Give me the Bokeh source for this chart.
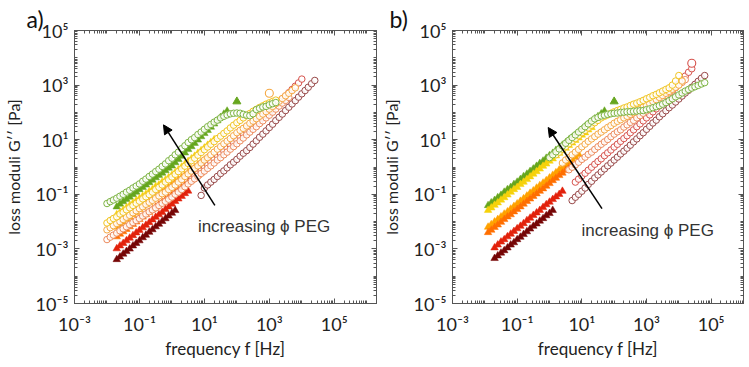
from bokeh.plotting import figure
from bokeh.layouts import row
from bokeh.models import LogAxis, FixedTicker, CustomJSTickFormatter, Arrow, NormalHead
from bokeh.core.properties import value
from bokeh.embed import file_html
from bokeh.resources import INLINE

# ---------------- data ----------------
# measurement frequencies [Hz] (10 points per decade, 0.01 Hz ... 63 kHz)
F = [0.01, 0.0126, 0.0158, 0.02, 0.0251, 0.0316, 0.0398, 0.0501, 0.0631, 0.0794,
     0.1, 0.126, 0.158, 0.2, 0.251, 0.316, 0.398, 0.501, 0.631, 0.794,
     1, 1.26, 1.58, 2, 2.51, 3.16, 3.98, 5.01, 6.31, 7.94,
     10, 12.6, 15.8, 20, 25.1, 31.6, 39.8, 50.1, 63.1, 79.4,
     100, 126, 158, 200, 251, 316, 398, 501, 631, 794,
     1000, 1260, 1580, 2000, 2510, 3160, 3980, 5010, 6310, 7940,
     10000, 12600, 15800, 20000, 25100, 31600, 39800, 50100, 63100]

# ---- panel a) : filled triangles, G'' [Pa]  (first point at F[3] = 0.02 Hz)
TA_green = [0.035, 0.044, 0.054, 0.065, 0.079, 0.098, 0.12, 0.15, 0.18, 0.22,
            0.27, 0.33, 0.41, 0.50, 0.60, 0.74, 0.91, 1.1, 1.45, 1.9,
            2.5, 3.3, 4.4, 5.6, 7.4, 9.8, 13, 17, 22, 29,
            38, 50, 66, 87, 112]
TA_yellow = [0.018, 0.021, 0.026, 0.032, 0.039, 0.047, 0.058, 0.069, 0.085, 0.10,
             0.126, 0.15, 0.19, 0.22, 0.28, 0.33, 0.41, 0.50, 0.63, 0.79,
             1.0, 1.26, 1.6, 2.0, 2.5, 3.2, 4.0, 5.0, 6.3, 7.9, 10]
TA_orange = [0.0063, 0.0078, 0.0096, 0.012, 0.0145, 0.018, 0.022, 0.028, 0.034, 0.042,
             0.051, 0.063, 0.078, 0.096, 0.117, 0.148, 0.18, 0.22, 0.28, 0.34,
             0.42, 0.51, 0.63, 0.78, 0.95, 1.2, 1.5, 1.8, 2.2]
TA_dorange = [0.0028, 0.0035, 0.0043, 0.0052, 0.0065, 0.0079, 0.0098, 0.012, 0.0148, 0.018,
              0.022, 0.0275, 0.034, 0.042, 0.051, 0.063, 0.078, 0.095, 0.117, 0.145,
              0.178, 0.22, 0.27, 0.33, 0.41, 0.50, 0.62]
TA_red = [0.00102, 0.0013, 0.0016, 0.002, 0.0025, 0.0031, 0.0039, 0.0048, 0.006, 0.0074,
          0.0093, 0.0117, 0.0145, 0.018, 0.022, 0.028, 0.035, 0.044, 0.055, 0.068,
          0.085, 0.107, 0.132]
TA_dred = [0.00041, 0.00051, 0.00065, 0.00081, 0.001, 0.0013, 0.0016, 0.002, 0.0026, 0.0032,
           0.0041, 0.0051, 0.0065, 0.0081, 0.0102, 0.0129, 0.0162, 0.0204, 0.0257]
TA_green_extra_f = [100]
TA_green_extra_g = [250]

# ---- panel a) : open circles, G'' [Pa]
CA_green = [0.046, 0.054, 0.062, 0.072, 0.085, 0.10, 0.12, 0.14, 0.17, 0.20,
            0.24, 0.30, 0.36, 0.45, 0.55, 0.68, 0.83, 1.05, 1.3, 1.7,
            2.1, 2.8, 3.5, 4.7, 6.0, 7.9, 10, 12, 15.5, 19,
            24, 30, 36, 44, 52, 63, 72, 81, 89, 93,
            95, 93, 85, 79, 76, 89, 126, 141, 158, 166,
            190, 209, 229]                       # from F[0]
CA_yellow = [0.0089, 0.011, 0.013, 0.015, 0.019, 0.022, 0.027, 0.032, 0.039, 0.047,
             0.056, 0.068, 0.081, 0.098, 0.12, 0.15, 0.18, 0.22, 0.28, 0.34,
             0.43, 0.54, 0.68, 0.85, 1.07, 1.35, 1.7, 2.1, 2.7, 3.4,
             4.3, 5.4, 6.8, 8.5, 11, 13.5, 17, 21, 27, 34,
             42, 51, 63, 76, 91, 110, 129, 151, 174, 200,
             224, 251, 282]                      # from F[0]
CA_lorange = [0.005, 0.006, 0.0071, 0.0085, 0.010, 0.012, 0.0145, 0.017, 0.021, 0.025,
              0.030, 0.035, 0.043, 0.051, 0.060, 0.072, 0.087, 0.105, 0.12, 0.15,
              0.18, 0.22, 0.28, 0.35, 0.45, 0.56, 0.71, 0.89, 1.1, 1.4,
              1.8, 2.2, 2.8, 3.5, 4.5, 5.6, 7.1, 8.9, 11, 14,
              18, 22, 26, 32, 40, 48, 59, 72, 87, 107,
              132, 166, 209, 257, 324, 407, 501, 631, 794]   # from F[0]
CA_salmon = [0.0022, 0.0027, 0.0032, 0.0038, 0.0046, 0.0055, 0.0065, 0.0078, 0.0093, 0.011,
             0.013, 0.016, 0.019, 0.023, 0.027, 0.032, 0.039, 0.047, 0.055, 0.066,
             0.079, 0.10, 0.12, 0.15, 0.19, 0.24, 0.30, 0.37, 0.46, 0.58,
             0.71, 0.89, 1.1, 1.4, 1.8, 2.2, 2.8, 3.5, 4.5, 5.6,
             7.1, 9.1, 11.5, 15, 19, 24, 30, 39, 49, 63,
             79, 102, 132, 170, 219, 275, 355]    # from F[0]
CA_red = [0.35, 0.45, 0.56, 0.72, 0.91, 1.15, 1.5, 1.9, 2.3, 3.0,
          3.8, 4.8, 6.2, 7.8, 9.8, 12.6, 16, 20, 25, 32,
          40, 50, 63, 79, 100, 132, 174, 229, 302, 398,
          525, 692, 912, 1200, 1660]             # from F[26] = 4 Hz
CA_dred = [0.091, 0.17, 0.22, 0.28, 0.35, 0.45, 0.58, 0.72, 0.93, 1.2,
           1.5, 1.9, 2.5, 3.2, 4.0, 5.2, 6.9, 9.1, 12.3, 16,
           21, 28, 37, 50, 66, 87, 117, 155, 204, 269,
           363, 479, 631, 832, 1120, 1480]       # from F[29] = 7.9 Hz
CA_lorange_extra_f = [1000]
CA_lorange_extra_g = [500]

# ---- panel b) : filled triangles
TB_green = [0.039, 0.049, 0.060, 0.076, 0.093, 0.12, 0.15, 0.18, 0.23, 0.28,
            0.35, 0.45, 0.55, 0.69, 0.85, 1.07, 1.35, 1.66, 2.1, 2.6,
            3.2, 4.1, 5.0, 6.3, 7.8, 9.8, 12, 15, 19, 23,
            30, 37, 46, 58, 71, 89, 112]         # from F[1]
TB_yellow = [0.026, 0.032, 0.040, 0.049, 0.062, 0.076, 0.095, 0.12, 0.15, 0.18,
             0.23, 0.28, 0.35, 0.44, 0.55, 0.68, 0.85, 1.07, 1.3, 1.65,
             2.0, 2.6, 3.2, 4.0, 4.9, 6.2, 7.6, 9.5, 11.7, 14.8,
             18, 23, 28]                         # from F[1]
TB_orange = [0.0063, 0.0078, 0.0098, 0.012, 0.015, 0.019, 0.023, 0.029, 0.036, 0.045,
             0.056, 0.069, 0.087, 0.11, 0.135, 0.17, 0.21, 0.26, 0.32, 0.40,
             0.50, 0.62, 0.78, 0.96, 1.2, 1.5, 1.9, 2.3, 2.9]   # from F[1]
TB_dorange = [0.0040, 0.0049, 0.0062, 0.0076, 0.0095, 0.012, 0.015, 0.018, 0.023, 0.028,
              0.035, 0.044, 0.055, 0.068, 0.085, 0.105, 0.13, 0.16, 0.20, 0.25,
              0.32, 0.39, 0.49, 0.60, 0.76, 0.93, 1.17]        # from F[1]
TB_red = [0.0011, 0.0014, 0.0018, 0.0022, 0.0028, 0.0035, 0.0044, 0.0055, 0.0068, 0.0085,
          0.011, 0.0135, 0.017, 0.021, 0.026, 0.033, 0.042, 0.052, 0.065, 0.081,
          0.10, 0.13]                            # from F[3]
TB_dred = [0.00045, 0.00056, 0.00071, 0.00087, 0.0011, 0.0014, 0.0017, 0.0022, 0.0027, 0.0034,
           0.0043, 0.0054, 0.0068, 0.0083, 0.0105, 0.013, 0.0166, 0.020, 0.026]   # from F[3]
TB_green_extra_f = [100]
TB_green_extra_g = [250]

# ---- panel b) : open circles
CB_green = [2.2, 2.8, 3.6, 4.6, 5.9, 7.4, 9.5, 12, 15, 19,
            24, 30, 38, 48, 58, 66, 74, 79, 85, 89,
            93, 95, 100, 102, 105, 107, 110, 112, 115, 117,
            126, 135, 148, 162, 178, 200, 229, 269, 316, 372,
            437, 513, 603, 692, 776, 871, 977, 1100, 1230]   # from F[20] = 1 Hz
CB_yellow = [2.8, 3.5, 4.5, 5.6, 7.1, 8.9, 11, 14, 18, 22,
             27, 34, 42, 51, 63, 72, 81, 93, 105, 117,
             129, 145, 158, 178, 200, 219, 245, 275, 316, 355,
             407, 457, 525, 603, 692, 794, 1000, 1410, 2240]  # from F[22]
CB_lorange = [1.4, 1.8, 2.2, 2.8, 3.5, 4.4, 5.5, 6.9, 8.7, 10.7,
              13, 16, 19, 23, 28, 33, 40, 47, 54, 63,
              72, 85, 98, 115, 132, 155, 178, 209, 251, 295,
              355, 417, 501, 589, 708, 832, 1000, 1410]       # from F[24]
CB_salmon = [0.79, 0.98, 1.2, 1.5, 1.9, 2.3, 2.9, 3.5, 4.4, 5.5,
             6.8, 8.3, 10.2, 12.9, 16, 19.5, 23, 29, 35, 43,
             51, 63, 76, 93, 112, 141, 174, 219, 269, 339,
             417, 525, 661, 813, 1020, 1260, 1580]            # from F[26]
CB_red = [0.28, 0.36, 0.47, 0.59, 0.76, 0.98, 1.26, 1.6, 2.0, 2.6,
          3.3, 4.2, 5.4, 6.8, 8.7, 11, 14, 18, 23, 30,
          38, 49, 63, 81, 105, 135, 174, 224, 309, 427,
          589, 813, 1120, 1550, 2140, 2950, 3980]             # from F[28]
CB_dred = [0.059, 0.078, 0.10, 0.13, 0.17, 0.23, 0.30, 0.40, 0.51, 0.66,
           0.85, 1.1, 1.4, 1.8, 2.3, 3.0, 3.8, 4.9, 6.3, 8.3,
           10.7, 14, 18, 24, 31, 41, 52, 69, 89, 115,
           148, 186, 240, 309, 398, 513, 646, 832, 1070, 1380,
           1780, 2240]                                        # from F[27]
CB_red_extra_f = [25100]
CB_red_extra_g = [6300]

X_TICKS = [1e-3, 1e-1, 1e1, 1e3, 1e5]
Y_TICKS = [1e-5, 1e-3, 1e-1, 1e1, 1e3, 1e5]

# annotation anchors (data units)
ARROW_A = dict(x_start=21, y_start=0.039, x_end=0.55, y_end=35)
ARROW_B = dict(x_start=42, y_start=0.03, x_end=0.91, y_end=28)
TEXT_A = (6.3, 0.0068)
TEXT_B = (9.8, 0.0049)
TEXT = "increasing \u03d5 PEG"

# ---------------- styles ----------------
TRI_COLORS = dict(green="#66a61e", yellow="#f6d20a", orange="#ffa200",
                  dorange="#ff6f00", red="#e2220c", dred="#760606")
CIRC_COLORS = dict(green="#7db443", yellow="#f1c420", lorange="#f5a843",
                   salmon="#ec8a5c", red="#d6524c", dred="#984848")
AX_COLOR = "#555555"
FONT = "Lato"

MINOR = [m * 10.0 ** k for k in range(-6, 8) for m in range(1, 10)]

SUP_JS = """
const m = {"-": "\u207b", "0": "\u2070", "1": "\u00b9", "2": "\u00b2", "3": "\u00b3",
           "4": "\u2074", "5": "\u2075", "6": "\u2076", "7": "\u2077", "8": "\u2078", "9": "\u2079"};
const e = Math.round(Math.log10(tick));
return "10" + String(e).split("").map(c => m[c]).join("");
"""


def style_axis(ax, ticks, labels=True):
    ax.ticker = FixedTicker(ticks=ticks, minor_ticks=MINOR)
    ax.axis_line_color = AX_COLOR
    ax.major_tick_line_color = AX_COLOR
    ax.minor_tick_line_color = AX_COLOR
    ax.major_tick_in = 5
    ax.major_tick_out = 0
    ax.minor_tick_in = 3
    ax.minor_tick_out = 0
    if labels:
        ax.formatter = CustomJSTickFormatter(code=SUP_JS)
        ax.major_label_text_font = FONT
        ax.major_label_text_font_size = "18px"
        ax.major_label_text_color = "#222222"
        ax.axis_label_text_font = FONT
        ax.axis_label_text_font_size = "17px"
        ax.axis_label_text_font_style = "normal"
        ax.axis_label_text_color = "#222222"
    else:
        ax.formatter = CustomJSTickFormatter(code="return ''")
        ax.major_label_text_font_size = "0px"
        ax.major_label_standoff = 0


def add_series(p, grid_start, vals, kind, color):
    xs = F[grid_start:grid_start + len(vals)]
    if kind == "tri":
        p.scatter(xs, vals, marker="triangle", size=7.5, fill_color=color,
                  line_color=color, line_width=0.5)
    else:
        p.scatter(xs, vals, marker="circle", size=6.5, fill_color="white", fill_alpha=0.85,
                  line_color=color, line_width=1.0)


def make_panel(letter, letter_x, width, right, x_end, arrow, txt):
    p = figure(width=width, height=367, x_axis_type="log", y_axis_type="log",
               x_range=(1e-3, x_end), y_range=(1e-5, 1e5), title=letter,
               min_border_left=74, min_border_right=right, min_border_top=30, min_border_bottom=64,
               output_backend="svg", toolbar_location=None)
    p.title.align = "left"
    p.title.offset = letter_x
    p.title.standoff = -4
    p.title.text_font = FONT
    p.title.text_font_size = "23px"
    p.title.text_font_style = "normal"
    p.title.text_color = "#111111"
    p.xgrid.visible = False
    p.ygrid.visible = False
    p.outline_line_color = AX_COLOR
    p.background_fill_color = "white"
    p.border_fill_color = "white"

    style_axis(p.xaxis[0], X_TICKS)
    style_axis(p.yaxis[0], Y_TICKS)
    p.xaxis[0].axis_label = "frequency f [Hz]"
    p.yaxis[0].axis_label = "loss moduli G\u2032\u2032 [Pa]"
    p.yaxis[0].axis_label_text_font_size = "16px"
    p.xaxis[0].major_label_standoff = 9
    p.yaxis[0].major_label_standoff = 6
    p.xaxis[0].axis_label_standoff = 0
    p.yaxis[0].axis_label_standoff = 10

    top = LogAxis()
    style_axis(top, X_TICKS, labels=False)
    p.add_layout(top, "above")
    rgt = LogAxis()
    style_axis(rgt, Y_TICKS, labels=False)
    p.add_layout(rgt, "right")

    p.add_layout(Arrow(end=NormalHead(size=9, fill_color="black", line_color="black"),
                       line_color="black", line_width=1.5, **arrow))
    p.text(x=[txt[0]], y=[txt[1]], text=[TEXT],
           text_font=value("Liberation Sans"), text_font_size="17px",
           text_color="#333333", text_baseline="alphabetic", text_align="left")
    return p


# ---------------- panel a ----------------
pa = make_panel("a)", -48, 378, 2, 10 ** 6.3, ARROW_A, TEXT_A)
for vals, name in [(TA_green, "green"), (TA_yellow, "yellow"), (TA_orange, "orange"),
                   (TA_dorange, "dorange"), (TA_red, "red"), (TA_dred, "dred")]:
    add_series(pa, 3, vals, "tri", TRI_COLORS[name])
for vals, start, name in [(CA_dred, 29, "dred"), (CA_red, 26, "red"), (CA_salmon, 0, "salmon"),
                          (CA_lorange, 0, "lorange"), (CA_yellow, 0, "yellow"), (CA_green, 0, "green")]:
    add_series(pa, start, vals, "circ", CIRC_COLORS[name])
pa.scatter(TA_green_extra_f, TA_green_extra_g, marker="triangle", size=8,
           fill_color=TRI_COLORS["green"], line_color=TRI_COLORS["green"])
pa.scatter(CA_lorange_extra_f, CA_lorange_extra_g, marker="circle", size=8, fill_color="white",
           line_color=CIRC_COLORS["lorange"], line_width=1.1)

# ---------------- panel b ----------------
pb = make_panel("b)", -63, 371, 6, 10 ** 6.0, ARROW_B, TEXT_B)
for vals, start, name in [(TB_green, 1, "green"), (TB_yellow, 1, "yellow"), (TB_orange, 1, "orange"),
                          (TB_dorange, 1, "dorange"), (TB_red, 3, "red"), (TB_dred, 3, "dred")]:
    add_series(pb, start, vals, "tri", TRI_COLORS[name])
for vals, start, name in [(CB_dred, 27, "dred"), (CB_red, 28, "red"), (CB_salmon, 26, "salmon"),
                          (CB_lorange, 24, "lorange"), (CB_yellow, 22, "yellow"), (CB_green, 20, "green")]:
    add_series(pb, start, vals, "circ", CIRC_COLORS[name])
pb.scatter(TB_green_extra_f, TB_green_extra_g, marker="triangle", size=8,
           fill_color=TRI_COLORS["green"], line_color=TRI_COLORS["green"])
pb.scatter(CB_red_extra_f, CB_red_extra_g, marker="circle", size=8, fill_color="white",
           line_color=CIRC_COLORS["red"], line_width=1.1)

layout = row(pa, pb)
open("out.html", "w", encoding="utf-8").write(file_html(layout, INLINE))
